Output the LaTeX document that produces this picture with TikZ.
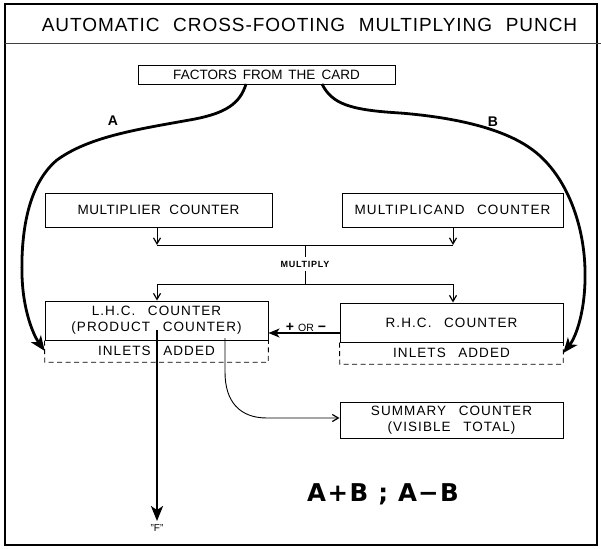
\documentclass[tikz,border=0pt]{standalone}
\usepackage{fontspec}
\setmainfont{Liberation Sans}
\newfontfamily\lett{Liberation Sans}[LetterSpace=4,WordSpace=2]
\newfontfamily\lettw{Liberation Sans}[LetterSpace=8,WordSpace=2.6]
\newfontfamily\lettn{Liberation Sans}[LetterSpace=0,WordSpace=1.6]
\newfontfamily\ttl{Liberation Sans}[LetterSpace=5,WordSpace=2.2]
\newfontfamily\heavy{DejaVu Sans}[LetterSpace=6]
\usetikzlibrary{arrows.meta}
\tikzset{
  box/.style={draw, line width=1pt, rectangle, inner sep=0pt, align=center,
    font=\lett\fontsize{13.5}{16}\selectfont},
  inlet/.style={rectangle, inner sep=0pt, align=center,
    font=\lettw\fontsize{13.5}{16}\selectfont},
  dashline/.style={line width=0.9pt, dash pattern=on 5pt off 3.5pt},
  thinline/.style={line width=0.9pt},
  thinarrow/.style={line width=0.9pt, -{Straight Barb[length=6pt,width=7pt,line width=1.2pt]}},
  heavyarrow/.style={line width=2.8pt, -{Stealth[length=15pt,width=12pt,inset=4pt]}},
  midarrow/.style={line width=1.3pt, -{Stealth[length=11pt,width=9pt,inset=3pt]}},
}
\begin{document}
\begin{tikzpicture}[x=1pt,y=-1pt]
\useasboundingbox (0,0) rectangle (601,548);
% frame and title
\draw[line width=1.5pt] (5,4) rectangle (597,545);
\draw[line width=0.9pt, black!75] (5,43) -- (601,43);
\node (title) at (309.5,25) {\ttl\fontsize{19}{22}\selectfont AUTOMATIC CROSS-FOOTING MULTIPLYING PUNCH};
% boxes
\node[box, minimum width=257pt, minimum height=19pt, font=\lettn\fontsize{13.5}{16}\selectfont] (factors) at (266.5,75) {FACTORS FROM THE CARD};
\node[box, minimum width=227pt, minimum height=34pt] (mult) at (158.5,210) {MULTIPLIER COUNTER};
\node[box, minimum width=221pt, minimum height=34pt, font=\lettw\fontsize{13.5}{16}\selectfont] (mcand) at (452.5,210) {MULTIPLICAND COUNTER};
\node[box, minimum width=223pt, minimum height=39pt, font=\lettw\fontsize{13.5}{16}\selectfont] (lhc) at (156.5,320.5) {L.H.C. COUNTER\\(PRODUCT COUNTER)};
\node[inlet, minimum width=223pt, minimum height=22pt] (lhcin) at (156.5,351) {INLETS ADDED};
\node[box, minimum width=223pt, minimum height=39pt, font=\lettw\fontsize{13.5}{16}\selectfont] (rhc) at (451.5,322.5) {R.H.C. COUNTER};
\node[inlet, minimum width=223pt, minimum height=22pt] (rhcin) at (451.5,353) {INLETS ADDED};
\node[box, minimum width=223pt, minimum height=36pt, font=\lettw\fontsize{13.5}{16}\selectfont] (summ) at (451.5,420.5) {SUMMARY COUNTER\\(VISIBLE TOTAL)};
\draw[dashline] (lhc.south west) -- (lhcin.south west) -- (lhcin.south east) -- (lhc.south east);
\draw[dashline] (rhc.south west) -- (rhcin.south west) -- (rhcin.south east) -- (rhc.south east);
% labels
\node (la) at (113,121) {\fontsize{14}{16}\selectfont\bfseries A};
\node (lb) at (493,122) {\fontsize{14}{16}\selectfont\bfseries B};
\node (mul) at (305,264) {\fontsize{9}{10}\selectfont\bfseries\addfontfeature{LetterSpace=8} MULTIPLY};
\node (f) at (157,528) {\fontsize{10}{12}\selectfont "F"};
\node (eq) at (383,494) {\heavy\fontsize{24.5}{28}\selectfont\bfseries A+B ; A\kern1pt−B};
% multiply junction
\coordinate (j1) at (157,245);
\coordinate (j2) at (453,245);
\coordinate (k1) at (157,284);
\coordinate (k2) at (453,284);
\coordinate (m1) at (305,245);
\coordinate (m2) at (305,284);
\draw[thinarrow] (mult.south -| j1) -- (j1);
\draw[thinarrow] (mcand.south -| j2) -- (j2);
\draw[thinline] (j1) -- (j2);
\draw[thinline] (m1) -- (mul.north);
\draw[thinline] (mul.south) -- (m2);
\draw[thinline] (k1) -- (k2);
\draw[thinarrow] (k1) -- (lhc.north -| k1);
\draw[thinarrow] (k2) -- (rhc.north -| k2);
% + or - transfer
\coordinate (pr) at (340,333);
\draw[midarrow] (pr) -- (pr -| lhc.east);
\node[inner sep=0pt, anchor=base] (pm) at (306,331) {\bfseries\fontsize{14}{14}\selectfont +\hspace{4pt}\fontsize{10.5}{10.5}\selectfont\mdseries OR\hspace{4pt}\fontsize{14}{14}\selectfont\bfseries −};
% F output
\coordinate (fs) at (157,330);
\draw[heavyarrow, line width=2.6pt] (fs) -- (f.north);
% summary feed
\coordinate (ss) at (225,338);
\draw[thinarrow] (ss) -- (225,372) .. controls (225,402) and (240,418) .. (267,418) -- (summ.west |- 0,418);
% A and B feeds
\coordinate (a0) at (246,84);
\coordinate (b0) at (322,84);
\draw[heavyarrow] (a0) .. controls (240,104) and (225,113) .. (195,119)
  .. controls (140,129) and (90,136) .. (57,160)
  .. controls (27,185) and (21,235) .. (22,275)
  .. controls (23,312) and (34,336) .. (lhcin.west);
\draw[heavyarrow] (b0) .. controls (332,104) and (350,110) .. (400,113)
  .. controls (450,117) and (500,127) .. (530,148)
  .. controls (565,172) and (584,222) .. (585,270)
  .. controls (586,310) and (576,337) .. (rhcin.east);
\end{tikzpicture}
\end{document}
